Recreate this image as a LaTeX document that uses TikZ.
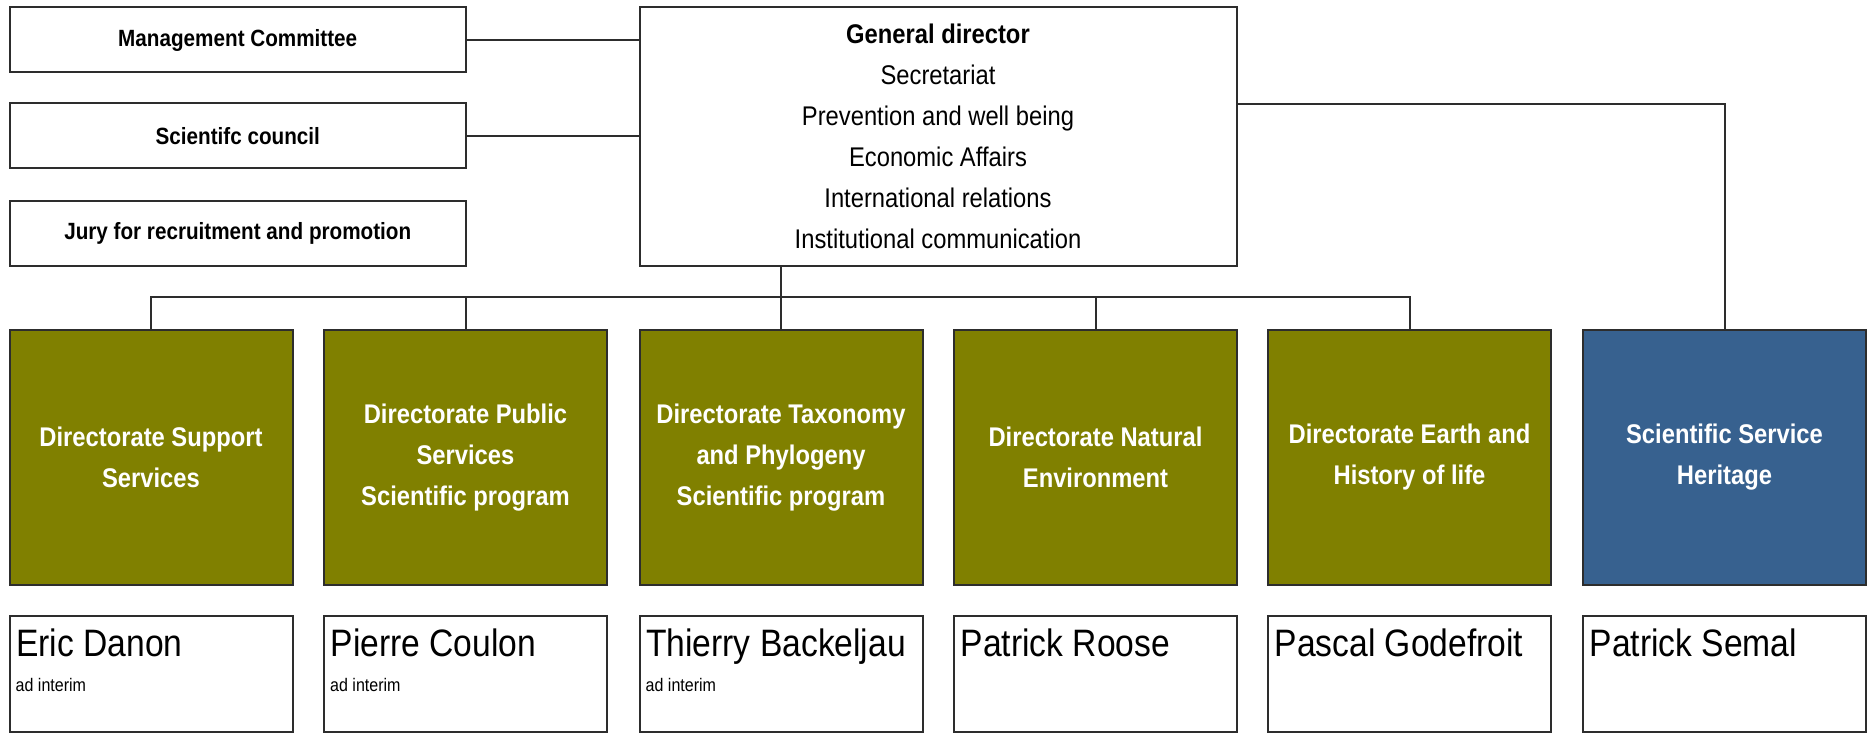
\documentclass[tikz,border=0pt]{standalone}
\usepackage{fontspec}
\setmainfont{Liberation Sans}[FakeStretch=0.88]
\definecolor{olivebox}{RGB}{128,128,0}
\definecolor{bluebox}{RGB}{55,97,143}
\definecolor{edge}{RGB}{45,45,45}
\tikzset{
  plainbox/.style={draw=edge, line width=2pt, fill=white, inner sep=0pt, align=center},
  sidebox/.style={plainbox, minimum width=456.5pt, minimum height=65pt, font=\fontsize{23.5}{28}\selectfont\bfseries},
  dirbox/.style={draw=edge, line width=2pt, fill=olivebox, text=white, inner sep=0pt, align=center,
     minimum width=283pt, minimum height=254.5pt, font=\fontsize{27}{41}\selectfont\bfseries},
  bluedir/.style={dirbox, fill=bluebox},
  namebox/.style={plainbox, minimum width=283pt, minimum height=116pt},
  nametext/.style={anchor=base west, inner sep=0pt, font=\fontsize{38.2}{40}\selectfont},
  interimtext/.style={anchor=base west, inner sep=0pt, font=\fontsize{18.2}{22}\selectfont},
  conn/.style={draw=edge, line width=2pt}
}
\begin{document}
\begin{tikzpicture}[x=1pt, y=-1pt]
\useasboundingbox (0,0) rectangle (1869,733);
% side boxes
\node[sidebox] (mgmt) at (237.75,40) {Management Committee};
\node[sidebox] (sci) at (237.75,136) {Scientifc council};
\node[sidebox] (jury) at (237.75,233) {Jury for recruitment and promotion};
% general director
\node[plainbox, minimum width=597pt, minimum height=258.5pt, font=\fontsize{27}{41}\selectfont] (gd) at (938,136.75)
  {\textbf{General director}\\Secretariat\\Prevention and well being\\Economic Affairs\\International relations\\Institutional communication};
% directorates
\node[dirbox] (c1) at (151,457.25) {Directorate Support\\Services};
\node[dirbox] (c2) at (465.5,457.25) {\raisebox{-2.5pt}{\parbox{270pt}{\centering Directorate Public\\Services\\Scientific program}}};
\node[dirbox] (c3) at (781,457.25) {\raisebox{-2.5pt}{\parbox{270pt}{\centering Directorate Taxonomy\\and Phylogeny\\Scientific program}}};
\node[dirbox] (c4) at (1095.5,457.25) {Directorate Natural\\Environment};
\node[dirbox] (c5) at (1409.5,457.25) {Directorate Earth and\\History of life};
\node[bluedir] (c6) at (1724.5,457.25) {Scientific Service\\Heritage};
% name boxes
\node[namebox] (n1) at (151,674) {};
\node[namebox] (n2) at (465.5,674) {};
\node[namebox] (n3) at (781,674) {};
\node[namebox] (n4) at (1095.5,674) {};
\node[namebox] (n5) at (1409.5,674) {};
\node[namebox] (n6) at (1724.5,674) {};
\node[nametext] (n1t) at ([shift={(7.5,41.5)}]n1.north west) {Eric Danon};
\node[nametext] (n2t) at ([shift={(7.5,41.5)}]n2.north west) {Pierre Coulon};
\node[nametext] (n3t) at ([shift={(7.5,41.5)}]n3.north west) {Thierry Backeljau};
\node[nametext] (n4t) at ([shift={(7.5,41.5)}]n4.north west) {Patrick Roose};
\node[nametext] (n5t) at ([shift={(7.5,41.5)}]n5.north west) {Pascal Godefroit};
\node[nametext] (n6t) at ([shift={(7.5,41.5)}]n6.north west) {Patrick Semal};
\node[interimtext] (n1i) at ([shift={(7,76)}]n1.north west) {ad interim};
\node[interimtext] (n2i) at ([shift={(7,76)}]n2.north west) {ad interim};
\node[interimtext] (n3i) at ([shift={(7,76)}]n3.north west) {ad interim};
% connectors
\coordinate (rt) at (0,104);
\coordinate (bus) at (0,297);
\draw[conn] (mgmt.east) -- (mgmt.east -| gd.west);
\draw[conn] (sci.east) -- (sci.east -| gd.west);
\draw[conn] (gd.east |- rt) -| (c6.north);
\draw[conn] (gd.south -| c3.north) -- (c3.north);
\draw[conn] (c1.north) -- (c1.north |- bus) -- (c5.north |- bus) -- (c5.north);
\draw[conn] (c2.north) -- (c2.north |- bus);
\draw[conn] (c4.north) -- (c4.north |- bus);
\end{tikzpicture}
\end{document}
